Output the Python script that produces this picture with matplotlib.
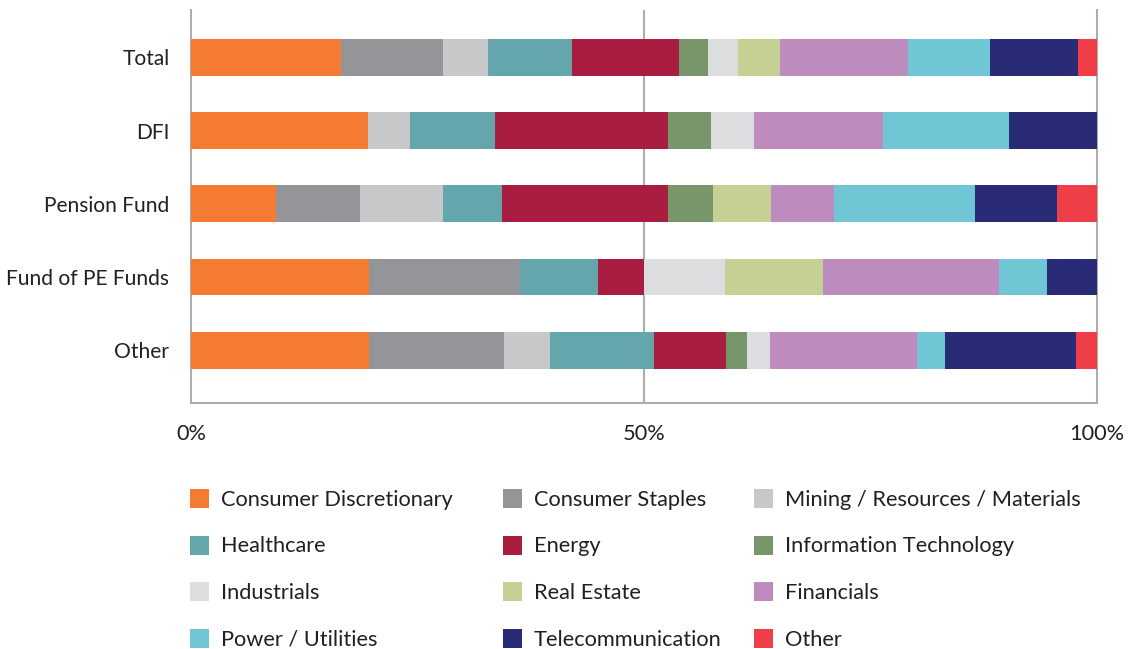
import matplotlib
matplotlib.use("Agg")
import matplotlib.pyplot as plt
from matplotlib.patches import Rectangle

W, H = 1131, 649

categories = ["Total", "DFI", "Pension Fund", "Fund of PE Funds", "Other"]
sectors = ["Consumer Discretionary", "Consumer Staples", "Mining / Resources / Materials",
           "Healthcare", "Energy", "Information Technology",
           "Industrials", "Real Estate", "Financials",
           "Power / Utilities", "Telecommunication", "Other"]
colors = ["#F47B31", "#949599", "#C7C8CA",
          "#65A5AC", "#A91D41", "#78966A",
          "#DCDDDF", "#C4D094", "#BD8BBD",
          "#71C6D6", "#2A2B76", "#EF3E48"]

total = [16.6, 11.2, 5.0, 9.3, 11.8, 3.2, 3.3, 4.6, 14.1, 9.1, 9.7, 2.1]
dfi = [19.5, 0, 4.7, 9.4, 19.1, 4.7, 4.7, 0, 14.3, 13.9, 9.7, 0]
pension = [9.4, 9.2, 9.2, 6.5, 18.3, 5.0, 0, 6.4, 7.0, 15.5, 9.1, 4.4]
fund_of_pe = [19.7, 16.6, 0, 8.6, 5.1, 0, 8.9, 10.9, 19.4, 5.3, 5.5, 0]
other = [19.7, 14.9, 5.0, 11.5, 7.9, 2.4, 2.5, 0, 16.2, 3.1, 14.5, 2.3]
rows = [total, dfi, pension, fund_of_pe, other]

xticks = [0, 50, 100]
xticklabels = ["0%", "50%", "100%"]

FONT = "Lato"
TXT = "#231F20"
GRID = "#ADADAD"
FS = 15.7
FS_Y = 15.1

fig = plt.figure(figsize=(W / 100, H / 100), dpi=100)
ax = fig.add_axes([191 / W, 1 - 403 / H, (1097 - 191) / W, (403 - 10) / H])

ypos = list(range(len(categories)))
for j, (sec, col) in enumerate(zip(sectors, colors)):
    lefts = [sum(r[:j]) for r in rows]
    vals = [r[j] for r in rows]
    ax.barh(ypos, vals, left=lefts, height=0.5, color=col, zorder=3, linewidth=0)

ax.set_xlim(0, 100)
ax.set_ylim(4.72, -0.646)
ax.set_yticks(ypos)
ax.set_yticklabels(categories, fontfamily=FONT, fontsize=FS_Y, color=TXT)
ax.set_xticks(xticks)
ax.set_xticklabels(xticklabels, fontfamily=FONT, fontsize=FS, color=TXT)
ax.tick_params(axis="both", length=0)
ax.tick_params(axis="y", pad=15.5)
ax.tick_params(axis="x", pad=15)

ax.spines["top"].set_visible(False)
for s in ["left", "right", "bottom"]:
    ax.spines[s].set_color(GRID)
    ax.spines[s].set_linewidth(1.5)
    ax.spines[s].set_zorder(1)
ax.axvline(50, color=GRID, lw=1.5, zorder=1)

# legend (row-major, 3 columns)
sw_x = [190, 503, 754]
tx_x = [221, 534, 785]
row_y = [498, 545, 591.5, 638.5]
sw = 19
for i, (sec, col) in enumerate(zip(sectors, colors)):
    r, c = divmod(i, 3)
    yc = row_y[r]
    fig.add_artist(Rectangle((sw_x[c] / W, 1 - (yc + sw / 2) / H), sw / W, sw / H,
                             transform=fig.transFigure, facecolor=col, edgecolor="none"))
    fig.text(tx_x[c] / W, 1 - (yc + 1.5) / H, sec, fontfamily=FONT, fontsize=FS, color=TXT,
             va="center", ha="left")

fig.savefig("out.png", dpi=100)
